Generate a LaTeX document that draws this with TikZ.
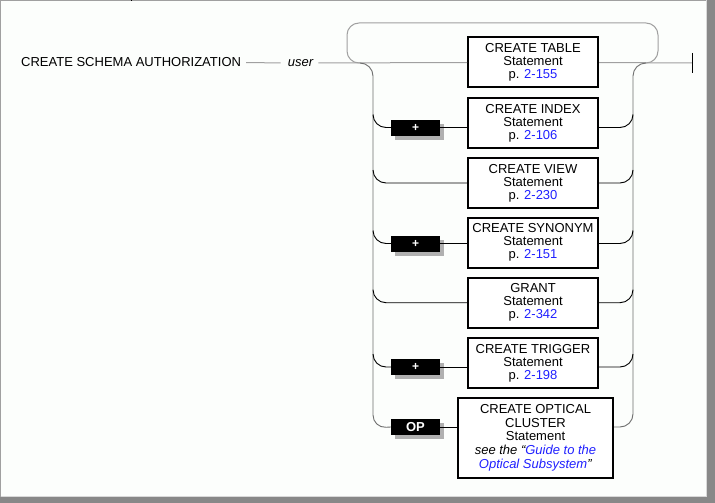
\documentclass[tikz,border=0pt]{standalone}
\usepackage{fontspec}
\setmainfont{Liberation Sans}
\usetikzlibrary{shadows}
\definecolor{lnk}{RGB}{32,32,255}
\definecolor{railc}{RGB}{160,160,160}
\definecolor{vrailc}{RGB}{110,110,110}
\definecolor{shad}{RGB}{176,176,176}
\definecolor{framec}{RGB}{136,136,136}
\definecolor{bgc}{RGB}{252,254,252}
\newcommand{\lk}[1]{\textcolor{lnk}{#1}}
\begin{document}
\begin{tikzpicture}[x=1pt,y=-1pt, font=\fontsize{13}{13}\selectfont,
 stmt/.style={draw=black, line width=2pt, minimum width=130pt, minimum height=50pt, inner sep=0pt, align=center, fill=white},
 tag/.style={fill=black, text=white, font=\fontsize{12}{12}\selectfont\bfseries, minimum width=49pt, minimum height=16pt, inner sep=0pt, drop shadow={shadow xshift=3.5pt, shadow yshift=-4pt, fill=shad, opacity=1}},
 rail/.style={draw=railc, line width=1pt},
 vrail/.style={draw=vrailc, line width=0.9pt, rounded corners=13pt},
 rowc/.style={draw=black, line width=0.9pt, rounded corners=13pt},
]
\useasboundingbox (0,0) rectangle (715,503);
% frame
\fill[framec] (0,0) rectangle (715,503);
\fill[bgc] (0,0) rectangle (707,497);
\draw[railc, line width=1pt] (0.5,497) -- (0.5,0.5) -- (707,0.5);
\draw[gray!30, line width=0.8pt] (706.5,0.5) -- (706.5,496.5) -- (0.5,496.5);
\draw[black, line width=1pt] (131.5,0) -- (131.5,1.5);

% labels
\node[anchor=west, inner sep=0pt] (schema) at (21,62.5) {CREATE SCHEMA AUTHORIZATION};
\node[inner sep=0pt] (user) at (300.5,63) {\itshape user};

% statements
\node[stmt] (s1) at (533,62.5) {CREATE TABLE\\Statement\\p. \lk{2-155}};
\node[stmt] (s2) at (533,123) {CREATE INDEX\\Statement\\p. \lk{2-106}};
\node[stmt] (s3) at (533,183) {CREATE VIEW\\Statement\\p. \lk{2-230}};
\node[stmt] (s4) at (533,242.7) {CREATE SYNONYM\\Statement\\p. \lk{2-151}};
\node[stmt] (s5) at (533,302.7) {GRANT\\Statement\\p. \lk{2-342}};
\node[stmt] (s6) at (533,363) {CREATE TRIGGER\\Statement\\p. \lk{2-198}};
\node[stmt, minimum width=155pt, minimum height=80pt, font=\fontsize{13}{13.7}\selectfont] (s7) at (535.5,437.7)
 {CREATE OPTICAL\\CLUSTER\\Statement\\\textit{see the “\lk{Guide to the}}\\\textit{\lk{Optical Subsystem}”}};

% tags
\node[tag] (t2) at (415.5,127.5) {+};
\node[tag] (t4) at (415.5,243.5) {+};
\node[tag] (t6) at (415.5,367) {+};
\node[tag, font=\fontsize{13}{13}\selectfont\bfseries] (t7) at (415.5,427) {OP};

% junctions
\coordinate (jl) at (360,63);
\coordinate (jr) at (646,63);
\coordinate (fin) at (692,63);
\coordinate (finT) at (692,53);
\coordinate (finB) at (692,73);

% main line
\draw[rail, shorten <=5pt, shorten >=7pt] (schema.east) -- (user.west);
\draw[rail, shorten <=5pt] (user.east) -- (s1.west);
\draw[rail] (s1.east) -- (fin);
\draw[black, line width=1pt] (finT) -- (finB);

% return loop
\draw[rail, rounded corners=12pt] (jl) -| (347,23) -| (658,63) -- (jr);

% left and right verticals
\draw[vrail] (jl) -| (373,428) -- (t7.west);
\draw[vrail] (t7 -| s7.east) -| (633,63) -- (jr);

% left branch curves
\draw[rowc] (373,114.5) |- (t2.west);
\draw[rowc] (373,170) |- (s3.west);
\draw[rowc] (373,230.5) |- (t4.west);
\draw[rowc] (373,290) |- (s5.west);
\draw[rowc] (373,354) |- (t6.west);

% tag to statement
\draw[rowc] (t2.east) -- (t2.east -| s2.west);
\draw[rowc] (t4.east) -- (t4.east -| s4.west);
\draw[rowc] (t6.east) -- (t6.east -| s6.west);
\draw[rowc] (t7.east) -- (t7.east -| s7.west);

% right branch curves
\draw[rowc] (t2 -| s2.east) -| (633,114.5);
\draw[rowc] (s3.east) -| (633,170);
\draw[rowc] (t4 -| s4.east) -| (633,230.5);
\draw[rowc] (s5.east) -| (633,290);
\draw[rowc] (t6 -| s6.east) -| (633,354);
\end{tikzpicture}
\end{document}
